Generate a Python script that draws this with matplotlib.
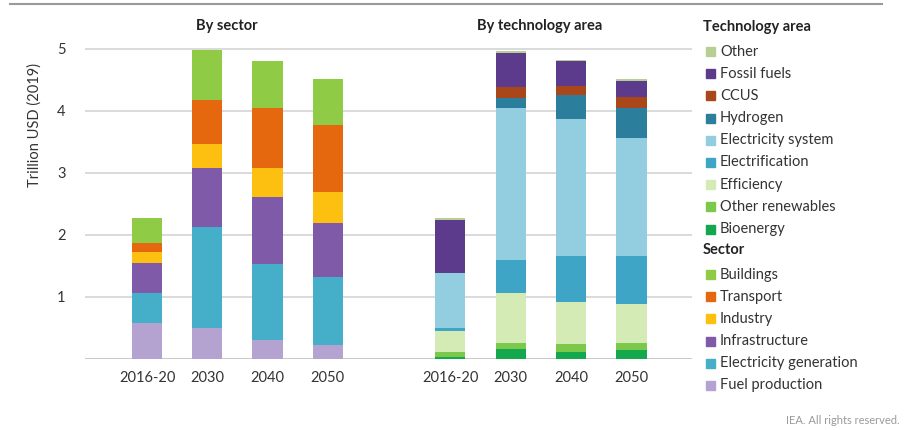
import matplotlib.pyplot as plt
import numpy as np
from matplotlib.patches import Rectangle
from matplotlib.lines import Line2D

plt.rcParams['font.family'] = ['Lato', 'DejaVu Sans']

years = ['2016-20', '2030', '2040', '2050']

# By sector (bottom to top), trillion USD (2019)
sector_names = ['Fuel production', 'Electricity generation', 'Infrastructure',
                'Industry', 'Transport', 'Buildings']
sector_colors = ['#b4a3d1', '#45aec9', '#7f5aa8', '#fdc010', '#e5680f', '#8fcb45']
fuel_production = [0.58, 0.50, 0.31, 0.22]
electricity_generation = [0.48, 1.63, 1.22, 1.11]
infrastructure = [0.49, 0.95, 1.09, 0.86]
industry = [0.17, 0.39, 0.46, 0.50]
transport = [0.15, 0.70, 0.97, 1.09]
buildings = [0.40, 0.81, 0.76, 0.74]
sector_values = [fuel_production, electricity_generation, infrastructure,
                 industry, transport, buildings]

# By technology area (bottom to top)
tech_names = ['Bioenergy', 'Other renewables', 'Efficiency', 'Electrification',
              'Electricity system', 'Hydrogen', 'CCUS', 'Fossil fuels', 'Other']
tech_colors = ['#13a84e', '#7cc84a', '#d5ebb6', '#3fa5c6', '#92cde0',
               '#2b7f9c', '#a9471b', '#5d3b8c', '#b8cf94']
bioenergy = [0.04, 0.16, 0.12, 0.15]
other_renewables = [0.07, 0.10, 0.12, 0.11]
efficiency = [0.34, 0.80, 0.68, 0.63]
electrification = [0.05, 0.54, 0.74, 0.77]
electricity_system = [0.89, 2.45, 2.21, 1.90]
hydrogen = [0.00, 0.16, 0.39, 0.49]
ccus = [0.00, 0.18, 0.14, 0.18]
fossil_fuels = [0.85, 0.55, 0.40, 0.26]
other = [0.03, 0.02, 0.02, 0.03]
tech_values = [bioenergy, other_renewables, efficiency, electrification,
               electricity_system, hydrogen, ccus, fossil_fuels, other]

W, H = 912, 430
fig = plt.figure(figsize=(W / 100, H / 100), dpi=100)

ax1 = fig.add_axes([85 / W, 1 - 359 / H, 303 / W, 313.1 / H])
ax2 = fig.add_axes([388 / W, 1 - 359 / H, 304 / W, 313.1 / H])

x = np.arange(len(years))
bar_width = 0.5


def stacked(ax, values, colors):
    bottom = np.zeros(len(years))
    for vals, col in zip(values, colors):
        ax.bar(x, vals, bottom=bottom, width=bar_width, color=col, zorder=3)
        bottom += np.array(vals)


stacked(ax1, sector_values, sector_colors)
stacked(ax2, tech_values, tech_colors)

for ax in (ax1, ax2):
    ax.set_xlim(-1.03, 4.0)
    ax.set_ylim(0, 5.05)
    ax.set_yticks([1, 2, 3, 4, 5])
    ax.grid(axis='y', color='#d4d4d4', lw=1.2, zorder=0)
    ax.axhline(0, color='#bfbfbf', lw=1.2, zorder=2)
    for s in ax.spines.values():
        s.set_visible(False)
    ax.set_xticks(x)
    ax.set_xticklabels(years, fontsize=10.5, color='#333333')
    ax.tick_params(axis='both', length=0)
    ax.tick_params(axis='x', pad=9)

ax1.tick_params(axis='y', pad=14, labelsize=10.5, labelcolor='#333333')
ax2.tick_params(axis='y', labelleft=False)

fig.text(227 / W, 1 - 26 / H, 'By sector', ha='center', va='center',
         fontsize=10.5, fontweight='bold', color='#222222')
fig.text(540 / W, 1 - 26 / H, 'By technology area', ha='center', va='center',
         fontsize=10.5, fontweight='bold', color='#222222')
fig.text(35 / W, 1 - 125 / H, 'Trillion USD (2019)', ha='center', va='center',
         rotation=90, fontsize=10.5, color='#333333')

# top rule
fig.add_artist(Line2D([10 / W, 882 / W], [1 - 4 / H, 1 - 4 / H],
                      color='#9a9a9a', lw=1.5))

# legend drawn by hand
def legend_block(title, names, colors, y0):
    fig.text(703 / W, 1 - y0 / H, title, ha='left', va='center',
             fontsize=10.5, fontweight='bold', color='#222222')
    y = y0 + 24.5
    for name, col in zip(names, colors):
        fig.add_artist(Rectangle((706 / W, 1 - (y + 4.5) / H), 9 / W, 9 / H,
                                 color=col, transform=fig.transFigure))
        fig.text(720 / W, 1 - y / H, name, ha='left', va='center',
                 fontsize=10.5, color='#333333')
        y += 22.2
    return y


legend_block('Technology area', tech_names[::-1], tech_colors[::-1], 27)
legend_block('Sector', sector_names[::-1], sector_colors[::-1], 250)

fig.text(900 / W, 1 - 420 / H, 'IEA. All rights reserved.', ha='right',
         va='center', fontsize=8, color='#9a9a9a')

fig.savefig('out.png', dpi=100)
